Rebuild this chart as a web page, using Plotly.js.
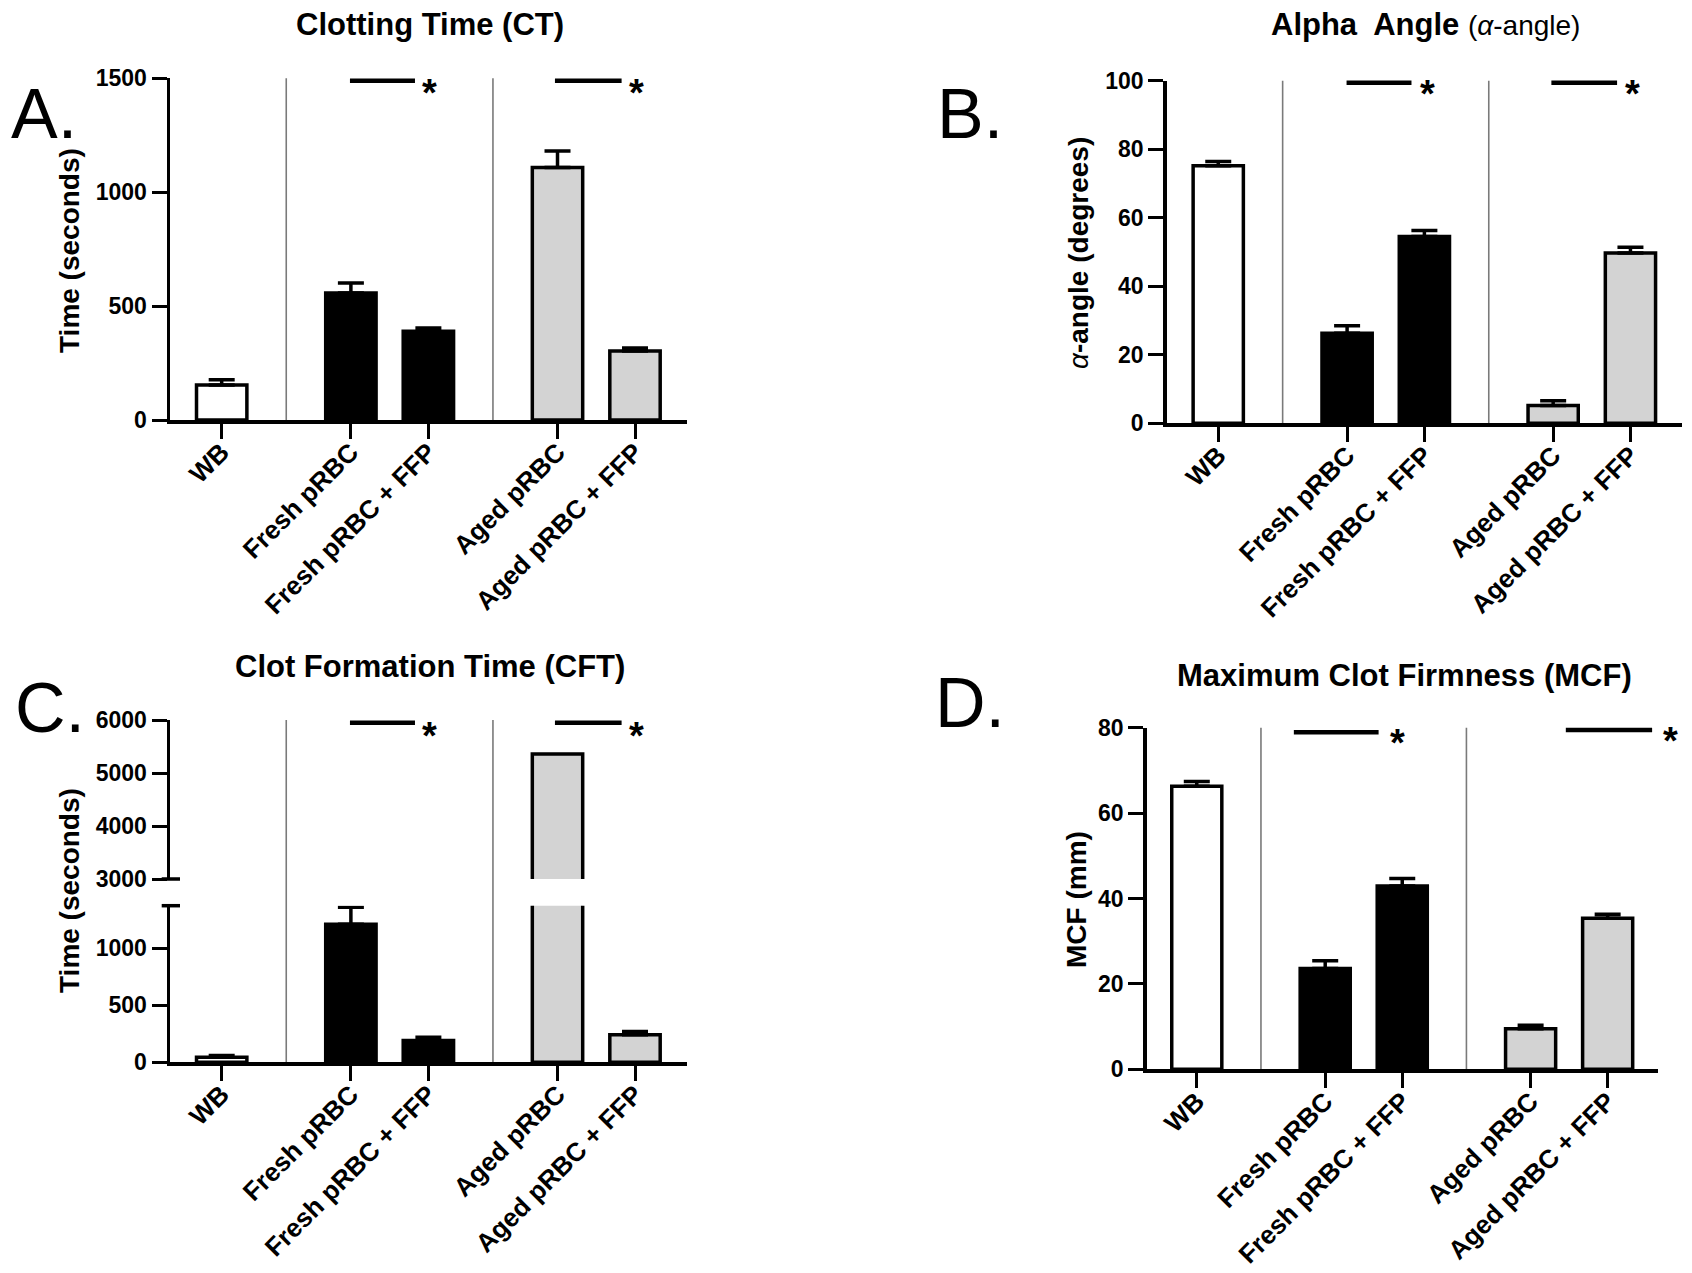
<!DOCTYPE html>
<html><head><meta charset="utf-8">
<script src="https://cdn.plot.ly/plotly-3.0.1.min.js"></script>
<style>html,body{margin:0;padding:0;background:#fff}</style>
</head><body><div id="chart" style="width:1692px;height:1273px"></div>
<script>
// ---------------- data ----------------
const categories = ['WB', 'Fresh pRBC', 'Fresh pRBC + FFP', 'Aged pRBC', 'Aged pRBC + FFP'];
const ctMean = [154, 558, 390, 1108, 303];
const ctSem = [23, 43, 14, 73, 13];
const alphaMean = [75.2, 26.3, 54.5, 5.2, 49.7];
const alphaSem = [1.2, 2.2, 1.8, 1.4, 1.7];
const cftMean = [45, 1212, 191, 5357, 241];
const cftSem = [15, 149, 29, 0, 29];
const mcfMean = [66.3, 23.6, 42.9, 9.5, 35.4];
const mcfSem = [1.1, 1.8, 1.8, 0.8, 0.9];
const ctTicks = [0, 500, 1000, 1500];
const alphaTicks = [0, 20, 40, 60, 80, 100];
const cftLowTicks = [0, 500, 1000];
const cftHighTicks = [3000, 4000, 5000, 6000];
const mcfTicks = [0, 20, 40, 60, 80];

// ---------------- layout constants ----------------
const W = 1692, H = 1273;
const FONT = 'Liberation Sans, Arial, sans-serif';
const XPOS = [0, 1.667, 2.667, 4.333, 5.333];
const FILL = ['#ffffff', '#000000', '#000000', '#d3d3d3', '#d3d3d3'];
const SEP = [0.833, 3.5];
const X = p => p / W;
const Y = p => 1 - p / H;

const domA = {x: [X(170), X(686.7)], y: [Y(420), Y(78.3)]};
const domB = {x: [X(1166.7), X(1682)], y: [Y(423.3), Y(80.7)]};
const domCx = [X(170), X(686.7)];
const domClo = [Y(1062.3), Y(905.7)];
const domChi = [Y(879), Y(720)];
const domD = {x: [X(1146.7), X(1657.5)], y: [Y(1069.3), Y(727.7)]};

function bar(xa, ya, y, err) {
  const t = {
    type: 'bar', x: XPOS, y: y, xaxis: xa, yaxis: ya, width: 0.65,
    marker: {color: FILL, line: {color: '#000', width: 3.5}},
    showlegend: false, hoverinfo: 'skip'
  };
  if (err) t.error_y = {type: 'data', array: err, arrayminus: err.map(() => 0), symmetric: false,
    color: '#000', thickness: 3.5, width: 13};
  return t;
}

const tickFont = {family: FONT, size: 23, color: '#000', weight: 700};
const xTickFont = {family: FONT, size: 26, color: '#000', weight: 700};
function xax(domain, range, anchor) {
  return {domain, range, anchor, tickvals: XPOS, ticktext: categories, tickangle: -45,
    showline: true, linecolor: '#000', linewidth: 3.5, ticks: 'outside', ticklen: 15, tickwidth: 3,
    tickcolor: '#000', showgrid: false, zeroline: false, tickfont: xTickFont, fixedrange: true,
    ticklabelstandoff: -12};
}
function yax(domain, range, ticks, anchor) {
  return {domain, range, anchor, tickvals: ticks, showline: true, linecolor: '#000', linewidth: 3.5,
    ticks: 'outside', ticklen: 15, tickwidth: 3, tickcolor: '#000', showgrid: false, zeroline: false,
    tickfont: tickFont, fixedrange: true};
}

const traces = [
  bar('x', 'y', ctMean, ctSem),
  bar('x2', 'y2', alphaMean, alphaSem),
  bar('x3', 'y3', cftMean, cftSem),
  bar('x3', 'y5', cftMean, null),
  bar('x4', 'y4', mcfMean, mcfSem)
];

const shapes = [];
function sepLines(xref, y0, y1) {
  SEP.forEach(s => shapes.push({type: 'line', xref, yref: 'paper', x0: s, x1: s, y0, y1,
    line: {color: '#7a7a7a', width: 1.6}, layer: 'below'}));
}
sepLines('x', domA.y[0], domA.y[1]);
sepLines('x2', domB.y[0], domB.y[1]);
sepLines('x3', domClo[0], domChi[1]);
sepLines('x4', domD.y[0], domD.y[1]);

function sig(xref, xa, xb, ypx) {
  shapes.push({type: 'line', xref, yref: 'paper', x0: xa, x1: xb, y0: Y(ypx), y1: Y(ypx),
    line: {color: '#000', width: 4.5}});
}
sig('x', 1.655, 2.494, 80.7); sig('x', 4.30, 5.16, 80.7);
sig('x2', 1.66, 2.50, 82.7); sig('x2', 4.31, 5.16, 82.7);
sig('x3', 1.655, 2.494, 722.7); sig('x3', 4.30, 5.16, 722.7);
sig('x4', 1.26, 2.36, 732.3); sig('x4', 4.79, 5.91, 730);

// axis-break caps on panel C
[879, 905.7].forEach(p => shapes.push({type: 'line', xref: 'paper', yref: 'paper',
  x0: X(161.7), x1: X(180), y0: Y(p), y1: Y(p), line: {color: '#000', width: 3.5}}));

const annotations = [];
function txt(text, xpx, ypx, size, opts) {
  annotations.push(Object.assign({text, x: X(xpx), y: Y(ypx), xref: 'paper', yref: 'paper',
    showarrow: false, xanchor: 'center', yanchor: 'middle',
    font: {family: FONT, size, color: '#000'}}, opts || {}));
}
// titles
txt('<b>Clotting Time (CT)</b>', 430, 25, 31);
txt('<b>Alpha\u00a0 Angle</b> <span style="font-size:28px">(<i>α</i>-angle)</span>', 1425, 25, 31);
txt('<b>Clot Formation Time (CFT)</b>', 430, 666, 31);
txt('<b>Maximum Clot Firmness (MCF)</b>', 1404, 675, 31);
// panel letters
txt('A.', 9, 114, 70, {xanchor: 'left'});
txt('B.', 935, 114, 70, {xanchor: 'left'});
txt('C.', 13, 708, 70, {xanchor: 'left'});
txt('D.', 933, 703, 70, {xanchor: 'left'});
// y-axis titles
txt('<b>Time (seconds)</b>', 69, 251, 28, {textangle: -90});
txt('<b><i style="font-weight:normal">α</i>-angle (degrees)</b>', 1078, 253, 28, {textangle: -90});
txt('<b>Time (seconds)</b>', 69, 891, 28, {textangle: -90});
txt('<b>MCF (mm)</b>', 1076, 900, 28, {textangle: -90});
// asterisks
[[430, 85], [636.7, 85], [1427, 86.5], [1632, 86.5], [430, 728], [636.7, 728], [1397.5, 734.5], [1670, 732.5]]
  .forEach(p => txt('<b>*</b>', p[0], p[1] + 8, 38));

const layout = {
  width: W, height: H, autosize: false, margin: {l: 0, r: 0, t: 0, b: 0},
  paper_bgcolor: '#fff', plot_bgcolor: 'rgba(0,0,0,0)', showlegend: false, bargap: 0,
  font: {family: FONT, color: '#000'},
  xaxis: xax(domA.x, [-0.667, 6.0], 'y'),
  yaxis: yax(domA.y, [0, 1500], ctTicks, 'x'),
  xaxis2: xax(domB.x, [-0.667, 6.0], 'y2'),
  yaxis2: yax(domB.y, [0, 100], alphaTicks, 'x2'),
  xaxis3: xax(domCx, [-0.667, 6.0], 'y3'),
  yaxis3: yax(domClo, [0, 1374], cftLowTicks, 'x3'),
  yaxis5: yax(domChi, [3000, 6000], cftHighTicks, 'x3'),
  xaxis4: xax(domD.x, [-0.65, 5.98], 'y4'),
  yaxis4: yax(domD.y, [0, 80], mcfTicks, 'x4'),
  shapes, annotations
};
Plotly.newPlot('chart', traces, layout, {staticPlot: true, displayModeBar: false});
</script></body></html>
